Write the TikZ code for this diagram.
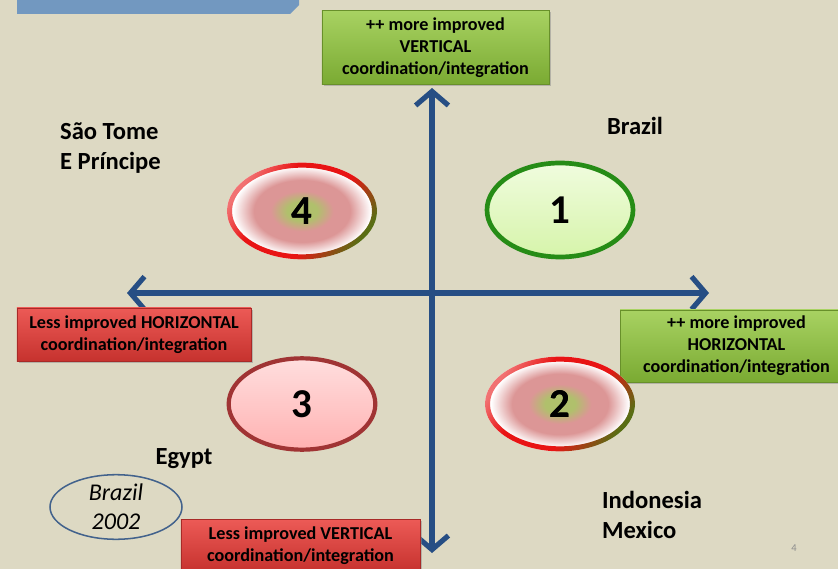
\documentclass[tikz,border=0pt]{standalone}
\usepackage{fontspec}
\setmainfont{Carlito}
\usetikzlibrary{arrows.meta,shapes.geometric,shadows,positioning}
\definecolor{fondo}{RGB}{221,217,195}
\definecolor{ejeAzul}{RGB}{38,78,132}
\definecolor{bannerAzul}{RGB}{114,152,192}
\definecolor{verdeClaro}{RGB}{168,210,98}
\definecolor{verdeOscuro}{RGB}{122,170,50}
\definecolor{rojoClaro}{RGB}{236,90,86}
\definecolor{rojoOscuro}{RGB}{198,50,46}
\definecolor{anilloRojo}{RGB}{232,20,20}
\definecolor{anilloVerde}{RGB}{88,110,20}
\definecolor{centroVerde}{RGB}{176,192,108}
\definecolor{rosaMedio}{RGB}{220,150,150}
\definecolor{limaClaro}{RGB}{240,252,222}
\definecolor{limaMedio}{RGB}{214,244,170}
\definecolor{verdeBorde}{RGB}{38,140,22}
\definecolor{rosaClaro}{RGB}{255,222,222}
\definecolor{rosaFuerte}{RGB}{255,178,178}
\definecolor{granate}{RGB}{160,52,52}
\definecolor{ovaloAzul}{RGB}{66,98,140}
\pgfdeclareradialshading{diana}{\pgfpoint{0bp}{0bp}}{color(0bp)=(centroVerde);
  color(5bp)=(centroVerde); color(10.5bp)=(rosaMedio); color(16bp)=(rosaMedio);
  color(23bp)=(white); color(25bp)=(white); color(50bp)=(white)}
\pgfdeclarehorizontalshading{anillo}{100bp}{color(0bp)=(anilloRojo!60!white);
  color(25bp)=(anilloRojo!60!white); color(38bp)=(anilloRojo); color(58bp)=(anilloRojo);
  color(75bp)=(anilloVerde); color(100bp)=(anilloVerde)}
\tikzstyle{axis}  =[line width=4.4pt, ejeAzul, line join=miter,
                    {Straight Barb[length=12pt,width=28pt]}-{Straight Barb[length=12pt,width=28pt]}]
\tikzstyle{box}   =[rectangle, align=center, inner sep=2pt,
                    font=\bfseries\fontsize{15.5}{18.7}\selectfont,
                    drop shadow={shadow xshift=1.5pt, shadow yshift=-1.5pt, fill=black!45, opacity=0.5}]
\tikzstyle{goodbox}=[box, draw=verdeOscuro!85!black, top color=verdeClaro, bottom color=verdeOscuro]
\tikzstyle{badbox} =[box, draw=rojoOscuro!85!black, top color=rojoClaro, bottom color=rojoOscuro]
\tikzstyle{oval}  =[ellipse, inner sep=0pt, minimum width=4.5cm, minimum height=2.9cm,
                    font=\bfseries\fontsize{35}{35}\selectfont]
\tikzstyle{mixoval}=[oval, shading=diana]
\tikzstyle{country}=[align=left, font=\bfseries\fontsize{21}{25.5}\selectfont]

\begin{document}
\begin{tikzpicture}[x=0.03cm, y=-0.03cm]
    \useasboundingbox (0,0) rectangle (838,569);
    \fill[fondo] (0,0) rectangle (838,569);
    \clip (0,0) rectangle (838,569);

    % title banner
    \fill[bannerAzul] (17,0) -- (299,0) -- (299,5) -- (290,14) -- (17,14) -- cycle;

    % axes
    \coordinate (top) at (432,88);
    \coordinate (bottom) at (432,553);
    \coordinate (left) at (127,293);
    \coordinate (right) at (709,293);
    \draw [axis] (bottom) -- (top);
    \draw [axis] (left) -- (right);

    % end labels
    \draw (435.5,47.5) node (vup) [goodbox, minimum width=6.81cm, minimum height=2.22cm]
        {++ more improved\\VERTICAL\\coordination/integration};
    \draw (300.5,545.5) node (vdown) [badbox, minimum width=7.17cm, minimum height=1.56cm]
        {Less improved VERTICAL\\coordination/integration};
    \draw (134,334.5) node (hleft) [badbox, minimum width=7.02cm, minimum height=1.59cm]
        {Less improved HORIZONTAL\\coordination/integration};
    \draw (736.5,346) node (hright) [goodbox, minimum width=6.99cm, minimum height=2.16cm]
        {++ more improved\\HORIZONTAL\\coordination/integration};

    % quadrants
    \draw (560,210) node (q1) [oval, draw=verdeBorde, line width=4pt,
        minimum width=4.38cm, minimum height=2.82cm, top color=limaClaro, bottom color=limaMedio] {1};
    \draw (302,404) node (q3) [oval, draw=granate, line width=3.6pt,
        minimum width=4.4cm, minimum height=2.74cm, top color=rosaClaro, bottom color=rosaFuerte] {3};
    \draw (302,211) node (q4) [mixoval] {4};
    \draw (560,404) node (q2) [mixoval, minimum height=2.84cm] {2};
    \foreach \q/\ry in {q4/1.45, q2/1.42}
        \shade [shading=anillo, shading angle=-35, even odd rule]
            (\q.center) ellipse [x radius=2.25cm, y radius=\ry cm]
            (\q.center) ellipse [x radius=2.1cm, y radius=\ry cm-0.15cm];
    \node at (q4) [font=\bfseries\fontsize{35}{35}\selectfont] {4};
    \node at (q2) [font=\bfseries\fontsize{35}{35}\selectfont] {2};

    % countries
    \draw (56,148) node (stp) [country, anchor=west] {São Tome\\E Príncipe};
    \draw (635,126) node (bra) [country] {Brazil};
    \draw (184,459) node (egy) [country] {Egypt};
    \draw (598,515) node (idm) [country, anchor=west] {Indonesia\\Mexico};
    \draw (116,507) node (b02) [ellipse, draw=ovaloAzul, line width=1.3pt, inner sep=0pt,
        minimum width=3.96cm, minimum height=1.86cm, align=center,
        font=\itshape\fontsize{20.5}{24.6}\selectfont] {Brazil\\2002};

    % slide number
    \draw (794,548) node (pnum) [text=black!45, font=\fontsize{9}{9}\selectfont] {4};
\end{tikzpicture}
\end{document}
